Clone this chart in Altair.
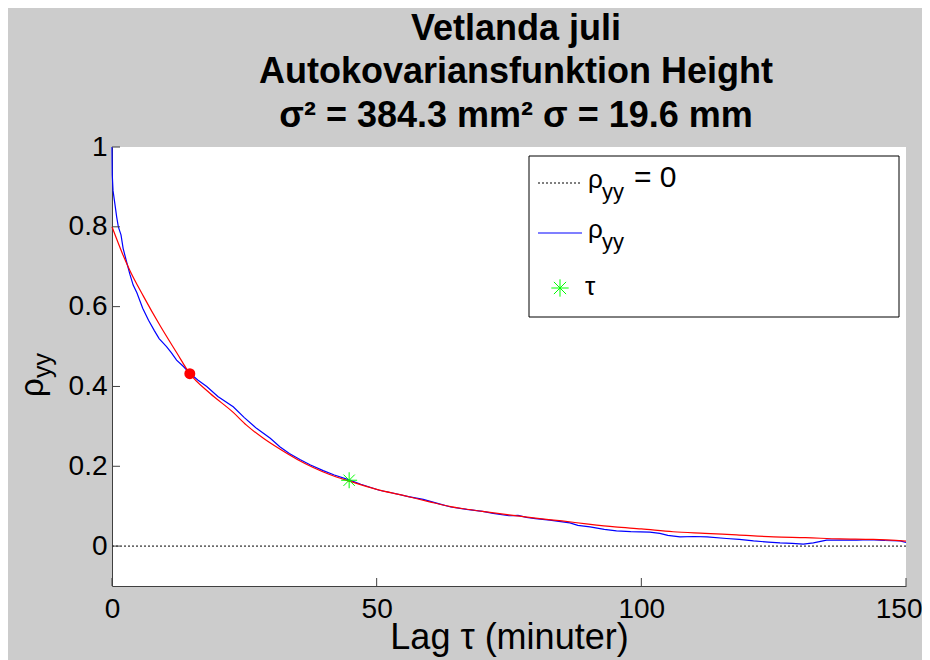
import altair as alt
import pandas as pd

# ---- values ----
lag_acf = [0, 0.05, 0.2, 0.57, 0.88, 1.2, 1.7, 2.1, 2.8, 3.4, 4.0, 4.7, 5.8, 6.9, 8.0,
           8.9, 10.3, 11.2, 12.2, 13.5, 14.7, 16.2, 17.9, 20.0, 22.9, 25.0, 27.3, 29.9,
           31.7, 33.5, 35.5, 37.5, 39.9, 42.0, 44.8, 47.0, 50.5, 53.0, 56.0, 58.8, 62.0,
           64.0, 67.0, 70.0, 72.0, 75.0, 76.7, 78.3, 80.0, 82.7, 86.5, 88.0, 90.3, 93.0,
           95.3, 98.0, 101.6, 103.5, 105.0, 107.3, 110.0, 112.4, 116.1, 118.5, 121.2,
           124.0, 126.2, 128.5, 130.6, 132.5, 135.0, 138.0, 140.7, 143.0, 146.0, 148.9, 150.0]
rho_acf = [1.0, 0.93, 0.89, 0.855, 0.825, 0.80, 0.78, 0.746, 0.71, 0.68, 0.654, 0.635, 0.596,
           0.566, 0.54, 0.52, 0.50, 0.485, 0.466, 0.45, 0.433, 0.416, 0.40, 0.375, 0.349,
           0.322, 0.295, 0.27, 0.249, 0.232, 0.217, 0.203, 0.189, 0.178, 0.166, 0.155, 0.140,
           0.133, 0.124, 0.117, 0.105, 0.098, 0.092, 0.087, 0.082, 0.076, 0.077, 0.072, 0.069,
           0.065, 0.058, 0.052, 0.048, 0.042, 0.038, 0.036, 0.035, 0.032, 0.027, 0.023, 0.024,
           0.023, 0.019, 0.017, 0.013, 0.010, 0.008, 0.007, 0.005, 0.008, 0.015, 0.015, 0.015,
           0.016, 0.014, 0.013, 0.009]

lag_fit = [0, 2, 3.4, 5.9, 9.1, 12.2, 14.7, 18.5, 22.9, 25.4, 28.6, 31.7, 35, 38, 41, 45, 50,
           55, 60, 64, 70, 75, 80, 85, 90, 95, 100, 106, 112, 118, 125, 131, 137.5, 143.8, 150]
rho_fit = [0.80, 0.732, 0.69, 0.627, 0.552, 0.485, 0.432, 0.383, 0.335, 0.303, 0.27, 0.243,
           0.217, 0.197, 0.18, 0.162, 0.142, 0.127, 0.111, 0.099, 0.087, 0.078, 0.070, 0.063,
           0.055, 0.048, 0.043, 0.036, 0.032, 0.028, 0.023, 0.021, 0.018, 0.0167, 0.0125]

dot_lag = [14.7]
dot_rho = [0.432]
tau_lag = [44.8]
tau_rho = [0.165]
zero_level = [0]

x_ticks = [0, 50, 100, 150]
y_ticks = [0, 0.2, 0.4, 0.6, 0.8, 1]

title_lines = ["Vetlanda juli", "Autokovariansfunktion Height", "σ² = 384.3 mm² σ = 19.6 mm"]
x_title = "Lag τ (minuter)"
rho_sym = "ρ"
sub_yy = "yy"
legend_eq = "= 0"
tau_sym = "τ"

# ---- layout / style ----
W, H = 794, 439
FONT = "Liberation Sans"
AXIS_COL = "#404040"
STAR = "M-1,0L1,0M0,-1L0,1M-0.707,-0.707L0.707,0.707M-0.707,0.707L0.707,-0.707"

xscale = alt.Scale(domain=[0, 150], nice=False, zero=False)
yscale = alt.Scale(domain=[-0.1, 1], nice=False, zero=False)
last_x = "datum.value >= 150"
xaxis = alt.Axis(values=x_ticks, title=x_title, grid=False, ticks=False, tickSize=0,
                 labelFlush=False,
                 labelAlign={"condition": {"test": last_x, "value": "right"}, "value": "center"},
                 labelOffset={"condition": {"test": last_x, "value": 16}, "value": 0},
                 labelPadding=9, labelFontSize=28, labelFont=FONT, labelColor="black",
                 titleFont=FONT, titleFontSize=36, titleFontWeight="normal", titleColor="black",
                 titleX=W / 2, titleY=62, titleBaseline="alphabetic", titleAlign="center",
                 domainColor=AXIS_COL, domainWidth=1)
yaxis = alt.Axis(values=y_ticks, title=None, grid=False, ticks=False, tickSize=0, format="~g",
                 labelFlush=False,
                 labelPadding=5, labelFontSize=28, labelFont=FONT, labelColor="black",
                 domainColor=AXIS_COL, domainWidth=1)


def xq(f):
    return alt.X(f, type="quantitative", scale=xscale, axis=xaxis)


def yq(f):
    return alt.Y(f, type="quantitative", scale=yscale, axis=yaxis)


acf = pd.DataFrame({"lag": lag_acf, "rho": rho_acf})
fit = pd.DataFrame({"lag": lag_fit, "rho": rho_fit})
dot = pd.DataFrame({"lag": dot_lag, "rho": dot_rho})
tau = pd.DataFrame({"lag": tau_lag, "rho": tau_rho})
zero = pd.DataFrame({"rho": zero_level})
xt = pd.DataFrame({"lag": x_ticks})
yt = pd.DataFrame({"rho": y_ticks})
one = pd.DataFrame({"a": [0]})

zero_line = alt.Chart(zero).mark_rule(color="black", strokeWidth=1, strokeDash=[2, 2]).encode(y=yq("rho"))
blue = alt.Chart(acf).mark_line(color="#0000ff", strokeWidth=1.2).encode(x=xq("lag"), y=yq("rho"))
red = alt.Chart(fit).mark_line(color="#ff0000", strokeWidth=1.2, interpolate="monotone").encode(
    x=xq("lag"), y=yq("rho"))
red_dot = alt.Chart(dot).mark_point(shape="circle", filled=True, color="#ff0000", size=120, opacity=1).encode(
    x=xq("lag"), y=yq("rho"))
star = alt.Chart(tau).mark_point(shape=STAR, filled=False, color="#00ff00", size=256, strokeWidth=1,
                                 opacity=1).encode(x=xq("lag"), y=yq("rho"))

xticks_in = alt.Chart(xt).mark_rule(color=AXIS_COL, strokeWidth=1).encode(
    x=xq("lag"), y=alt.value(H), y2=alt.value(H - 8))
yticks_in = alt.Chart(yt).mark_rule(color=AXIS_COL, strokeWidth=1).encode(
    y=yq("rho"), x=alt.value(0), x2=alt.value(8))

layers = [zero_line, blue, red, red_dot, star, xticks_in, yticks_in]

# title lines
for line, yb in zip(title_lines, [-107, -64, -20]):
    layers.append(alt.Chart(one).mark_text(text=line, font=FONT, fontSize=36, fontWeight="bold",
                                           color="black", align="center", baseline="alphabetic")
                  .encode(x=alt.value(404), y=alt.value(yb)))

# y axis title  rho_yy (rotated)
layers.append(alt.Chart(one).mark_text(text=rho_sym, font=FONT, fontSize=33, color="black", angle=270,
                                       align="left", baseline="alphabetic")
              .encode(x=alt.value(-69), y=alt.value(250)))
layers.append(alt.Chart(one).mark_text(text=sub_yy, font=FONT, fontSize=25, color="black", angle=270,
                                       align="left", baseline="alphabetic")
              .encode(x=alt.value(-61), y=alt.value(231)))

# legend box
layers.append(alt.Chart(one).mark_rect(fill="white", stroke="black", strokeWidth=1).encode(
    x=alt.value(417), x2=alt.value(787), y=alt.value(9), y2=alt.value(170)))
layers.append(alt.Chart(one).mark_rule(color="black", strokeWidth=1, strokeDash=[2, 2]).encode(
    x=alt.value(426), x2=alt.value(470), y=alt.value(36)))
layers.append(alt.Chart(one).mark_rule(color="#0000ff", strokeWidth=1.2).encode(
    x=alt.value(426), x2=alt.value(470), y=alt.value(86)))
layers.append(alt.Chart(one).mark_point(shape=STAR, filled=False, color="#00ff00", size=300,
                                        strokeWidth=1, opacity=1).encode(x=alt.value(448), y=alt.value(141)))

def txt(t, x, y, fs):
    return alt.Chart(one).mark_text(text=t, font=FONT, fontSize=fs, color="black", align="left",
                                    baseline="alphabetic").encode(x=alt.value(x), y=alt.value(y))

layers += [
    txt(rho_sym, 476, 41, 26), txt(sub_yy, 490, 52, 22), txt(legend_eq, 522, 40, 30),
    txt(rho_sym, 476, 91, 26), txt(sub_yy, 490, 102, 22),
    txt(tau_sym, 473, 148, 26),
]

chart = alt.layer(*layers).properties(
    width=W, height=H,
    padding={"left": 104, "top": 139, "right": 16, "bottom": 74},
    autosize=alt.AutoSizeParams(type="none"),
    background="#cccccc",
).configure_view(fill="white", strokeWidth=0)

chart.save("out.html", embed_options={"renderer": "svg", "actions": False})
